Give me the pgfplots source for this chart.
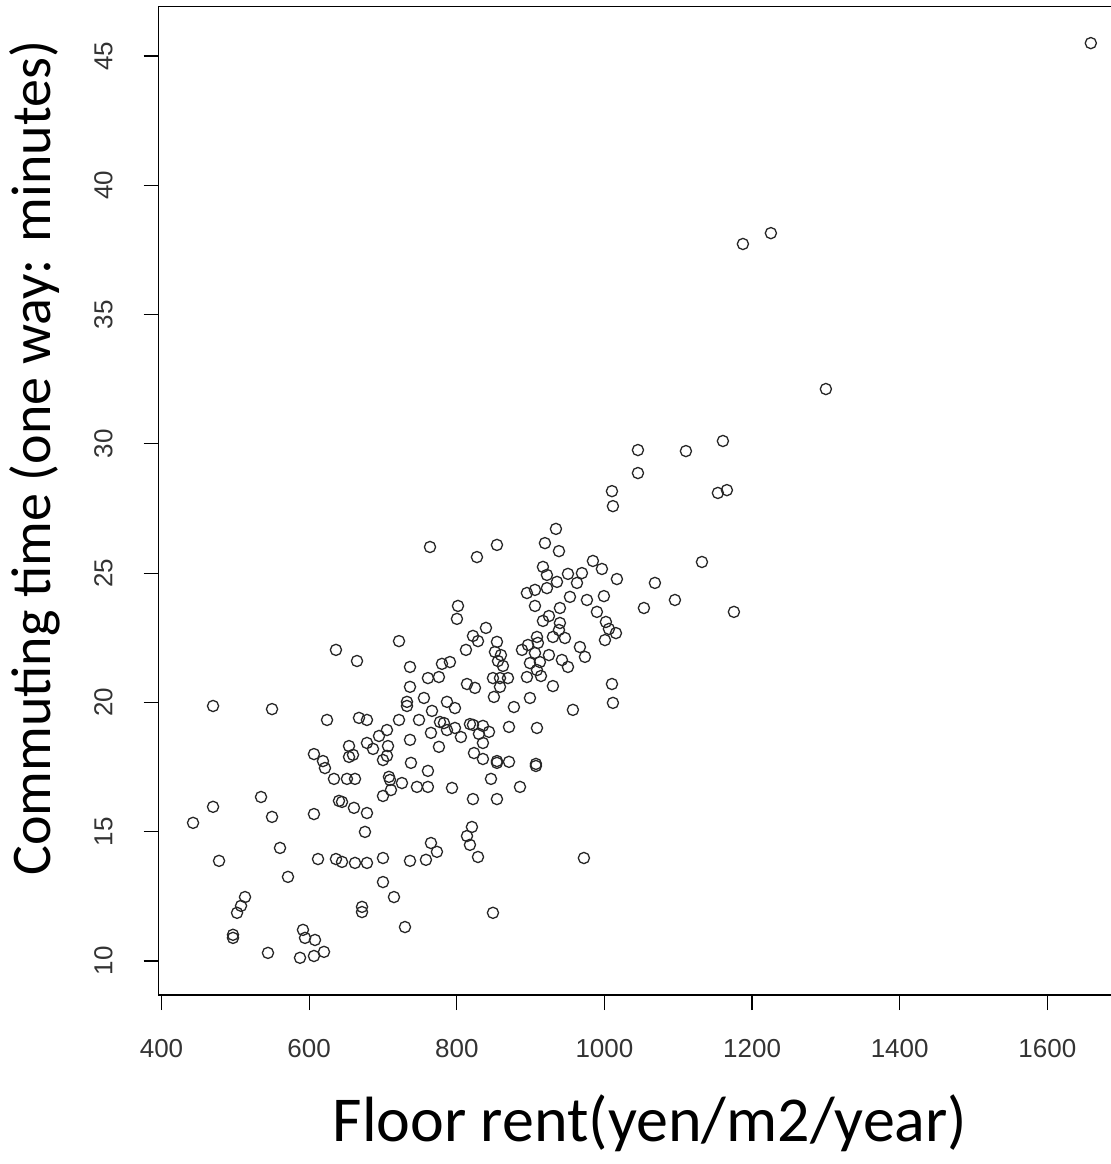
\documentclass[border=0pt]{standalone}
\usepackage{fontspec}
\setmainfont{Liberation Sans}
\newfontfamily\carlito{Carlito}
\usepackage{pgfplots}
\pgfplotsset{compat=1.18}

\begin{document}
\begin{tikzpicture}
\begin{axis}[
  scale only axis,
  width=484.7pt, height=494.4pt,
  xmin=396, xmax=1709, ymin=8.68, ymax=46.92,
  xtick={400,600,...,1600}, ytick={10,15,...,45},
  tick pos=left,
  tick align=outside, major tick length=7.5pt,
  tick style={black, line width=0.6pt},
  axis line style={line width=0.6pt},
  /pgf/number format/assume math mode=true,
  /pgf/number format/set thousands separator={},
  ticklabel style={font=\fontsize{13}{15}\selectfont, color=black!80},
  xticklabel shift=11pt,
  yticklabel shift=12pt,
  yticklabel style={rotate=90, anchor=south},
  xlabel={Floor rent(yen/m2/year)},
  ylabel={Commuting time (one way: minutes)},
  xlabel style={font=\carlito\fontsize{32}{35}\selectfont, anchor=base,
    at={(axis description cs:0.507,-0.1477)}},
  ylabel style={font=\carlito\fontsize{28}{31}\selectfont, anchor=base,
    at={(axis description cs:-0.112,0.543)}},
]
\addplot[only marks, mark=o, mark size=2.8pt, mark options={line width=0.65pt, black!85}]
coordinates {
(442.7,15.34) (469.8,19.86) (469.8,15.96) (477.9,13.87) (496.8,11.01) (496.8,10.89)
(502.3,11.86) (507.7,12.13) (513.1,12.47) (534.8,16.34) (544.2,10.31) (549.7,19.74)
(549.7,15.57) (560.5,14.37) (571.3,13.25) (587.6,10.12) (591.6,11.20) (594.4,10.89)
(607.9,10.81) (606.5,10.19) (620.1,10.35) (606.5,18.00) (606.5,15.68) (612.0,13.94)
(618.7,17.73) (621.4,17.46) (624.2,19.32) (633.6,17.04) (636.3,13.94) (640.4,16.19)
(636.3,22.03)
(644.5,13.83) (644.5,16.15) (651.2,17.04) (662.1,17.04) (654.0,18.31) (654.0,17.89)
(659.4,17.97) (660.7,15.92) (664.8,21.60) (667.5,19.40) (671.6,12.09) (671.6,11.89)
(662.1,13.79) (675.6,14.99) (678.3,19.32) (678.3,18.43) (678.3,15.72) (678.3,13.79)
(686.5,18.20) (694.6,18.70) (700.0,17.77) (700.0,16.38) (700.0,13.98) (700.0,13.05)
(705.4,18.93) (705.4,17.93) (706.8,18.31) (708.1,17.12) (709.5,17.00) (710.8,16.61)
(714.9,12.47) (721.7,22.37) (721.7,19.32) (725.7,16.88) (729.8,11.31) (732.5,20.02)
(732.5,19.86) (736.6,21.37) (736.6,20.60) (736.6,18.55) (737.9,17.66) (736.6,13.87)
(746.0,16.73) (748.8,19.32) (755.5,20.17) (758.2,13.91) (760.9,20.94) (760.9,17.35)
(760.9,16.73) (763.7,26.01) (765.0,18.82) (766.4,19.67) (765.0,14.56) (773.1,14.22)
(775.8,20.98) (775.8,18.28)
(779.9,21.49) (790.7,21.56) (777.2,19.24) (782.6,19.20) (786.7,20.02) (797.5,19.78)
(786.7,18.93) (797.5,19.01) (793.5,16.69) (801.6,23.73) (800.2,23.23) (805.6,18.66)
(812.4,22.03) (813.8,20.71) (824.6,20.56) (821.9,22.57) (839.5,22.88) (828.7,22.37)
(817.8,19.16) (821.9,19.13) (827.3,25.62) (830.0,18.78) (835.4,19.09) (835.4,18.43)
(843.6,18.86) (823.3,18.04) (835.4,17.81) (820.5,15.18) (813.8,14.83) (817.8,14.49)
(828.7,14.02) (821.9,16.26) (846.3,17.04) (854.4,26.09) (854.4,22.34) (851.7,21.95)
(859.8,21.83) (855.8,21.60) (862.5,21.41) (849.0,20.94) (858.5,20.94) (869.3,20.94)
(858.5,20.60) (850.3,20.21) (854.4,17.73) (854.4,17.66) (854.4,16.26) (870.7,19.05)
(870.7,17.70) (877.4,19.82) (885.6,16.73) (849.0,11.86) (888.3,22.03) (896.4,22.22)
(908.6,22.53) (909.9,22.30) (905.9,21.91) (899.1,21.52) (912.6,21.56) (908.6,21.25)
(895.0,20.98) (914.0,21.02) (899.1,20.17) (895.0,24.23) (905.9,24.35) (905.9,23.73)
(907.2,17.62) (907.2,17.54) (908.6,19.01)
(916.7,25.24) (916.7,23.15) (919.4,26.16) (922.1,24.93) (922.1,24.42) (924.8,23.34)
(924.8,21.83) (930.2,22.53) (930.2,20.63) (934.3,26.71) (935.7,24.66) (938.4,25.85)
(938.4,22.80) (939.7,23.65) (939.7,23.07) (946.5,22.49) (942.4,21.64) (950.6,21.37)
(950.6,24.97) (953.3,24.08) (957.3,19.71) (962.8,24.62) (969.5,25.00) (966.8,22.14)
(973.6,21.76) (972.2,13.98) (976.3,23.96) (984.4,25.47) (996.6,25.16) (999.3,24.11)
(989.8,23.50) (1002.0,23.11) (1006.1,22.84) (1015.6,22.68) (1000.7,22.41) (1010.2,28.17)
(1011.5,27.59) (1016.9,24.77) (1010.2,20.71) (1011.5,19.98) (1045.4,29.76) (1045.4,28.87)
(1053.5,23.65) (1068.4,24.62) (1095.5,23.96) (1110.4,29.72) (1132.1,25.43) (1153.7,28.10)
(1165.9,28.21) (1160.5,30.11) (1175.4,23.50) (1187.6,37.73) (1225.5,38.15) (1300.0,32.12)
(1658.9,45.50)
};
\coordinate (bl) at (rel axis cs:0,0);
\coordinate (tr) at (rel axis cs:1,1);
\end{axis}
\pgfresetboundingbox
\path[use as bounding box] ([xshift=-79.3pt,yshift=-84.5pt]bl) rectangle ([xshift=-8.5pt,yshift=3.2pt]tr);
\end{tikzpicture}
\end{document}
